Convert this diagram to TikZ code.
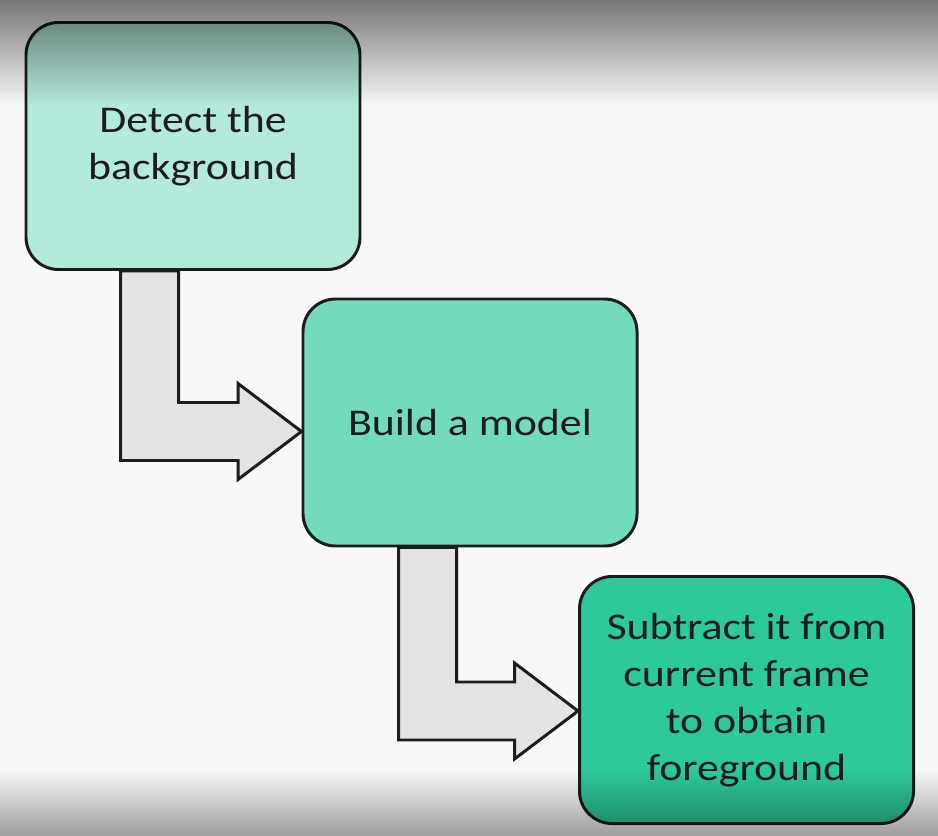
\documentclass[tikz,border=0pt]{standalone}
\usepackage{fontspec}
\setmainfont{Carlito}[FakeStretch=1.16]
\usetikzlibrary{calc}

\definecolor{pagebg}{HTML}{F8F8F8}
\definecolor{mintlight}{HTML}{B3EADB}
\definecolor{mintmid}{HTML}{73DBBD}
\definecolor{mintdark}{HTML}{2DC99B}
\definecolor{arrowgrey}{HTML}{E3E3E3}
\definecolor{inkdark}{HTML}{1C1C1C}

% grey at the top and bottom edges, white between
\pgfdeclareverticalshading{edgefade}{100bp}{color(0bp)=(black!36); color(25bp)=(black!36);
  color(28.9bp)=(white); color(68.7bp)=(white); color(75bp)=(black!52); color(100bp)=(black!52)}

\tikzset{
  stagebox/.style={draw=inkdark, line width=1.7pt, rounded corners=0.65cm,
    minimum width=6.68cm, minimum height=4.94cm, align=center,
    text=inkdark, font=\fontsize{21.5}{26.8}\selectfont},
  bentarrow/.style={draw=inkdark, fill=arrowgrey, line width=1.7pt, line join=miter}
}

\begin{document}
\begin{tikzpicture}
  \useasboundingbox (0,0) rectangle (18.76,16.7);
  \fill[pagebg] (0,0) rectangle (18.76,16.7);

  % the three steps
  \node[stagebox, fill=mintlight] (detect) at (3.86,13.78) {Detect the\\background};
  \node[stagebox, fill=mintmid] (model) at (9.40,8.25) {Build a model};
  \node[stagebox, fill=mintdark] (subtract) at (14.93,2.70) {Subtract it from\\current frame\\to obtain\\foreground};

  % where the bent arrows start and point to
  \coordinate (a1) at ($(detect.south west)+(1.92,0)$);
  \coordinate (t1) at ($(model.west)+(0,-0.18)$);
  \coordinate (a2) at ($(model.south west)+(1.94,0)$);
  \coordinate (t2) at ($(subtract.west)+(0,-0.22)$);

  \foreach \a/\t in {a1/t1, a2/t2}
    \draw[bentarrow] (\a) -- ++(1.16,0) -- ($(\a |- \t)+(1.16,0.58)$)
      -- ($(\t)+(-1.27,0.58)$) -- ($(\t)+(-1.27,0.96)$) -- (\t)
      -- ($(\t)+(-1.27,-0.96)$) -- ($(\t)+(-1.27,-0.58)$)
      -- ($(\a |- \t)+(0,-0.58)$) -- cycle;

  % darker edges at top and bottom
  \shade[shading=edgefade, blend mode=multiply] (0,0) rectangle (18.76,16.7);
\end{tikzpicture}
\end{document}
